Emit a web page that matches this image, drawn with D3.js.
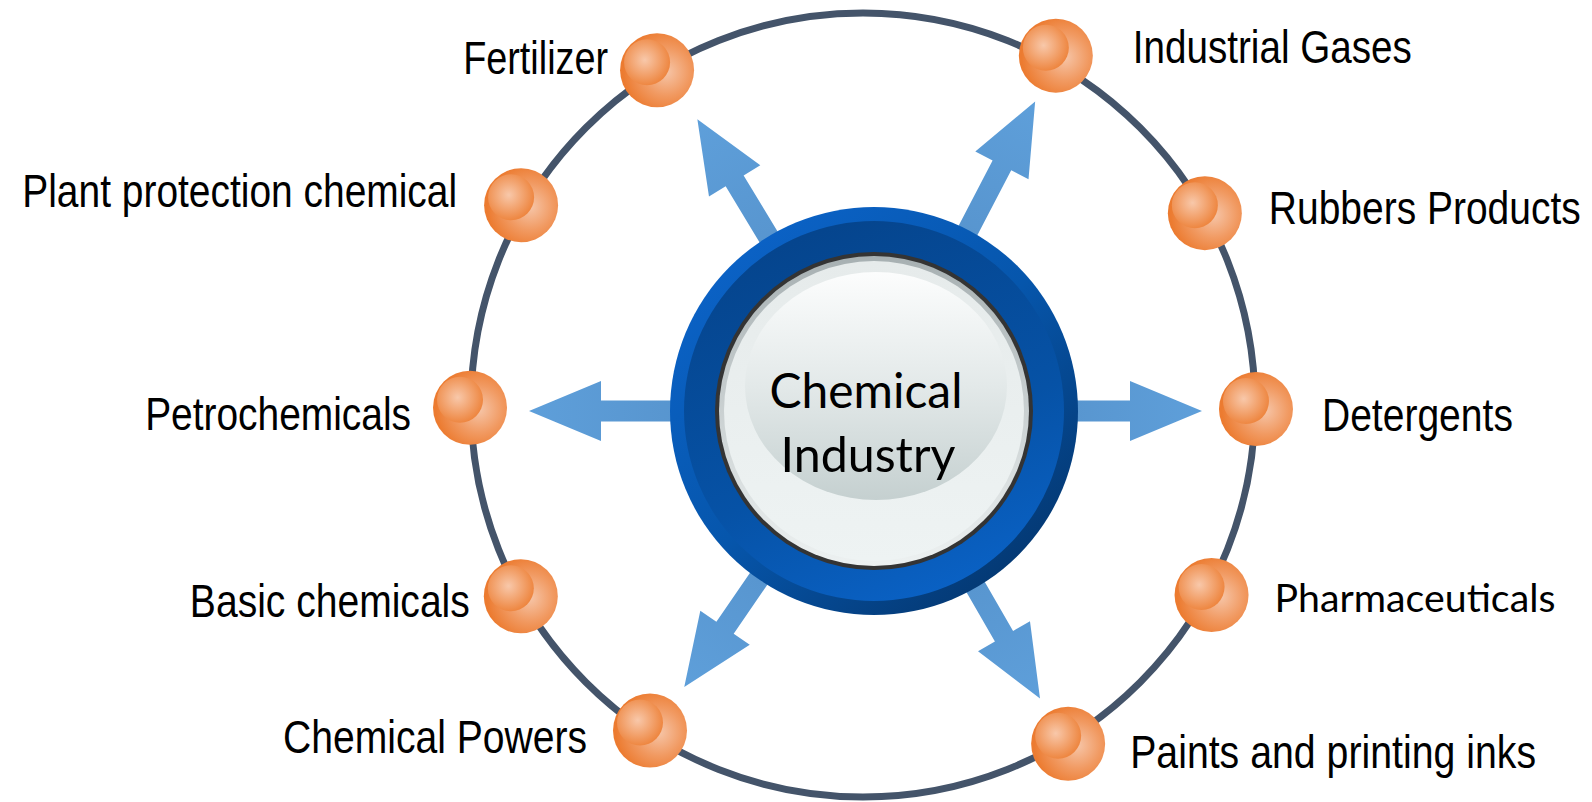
<!DOCTYPE html>
<html><head><meta charset="utf-8">
<script src="https://cdn.jsdelivr.net/npm/d3@7"></script>
<style>html,body{margin:0;padding:0;background:#fff;}svg{display:block;}</style>
</head><body>
<script>
// ---- data ----
const centerLabel = ["Chemical", "Industry"];
const labels = ["Fertilizer","Industrial Gases","Plant protection chemical","Rubbers Products","Petrochemicals","Detergents","Basic chemicals","Pharmaceuticals","Chemical Powers","Paints and printing inks"];
const nodeAngles = [-121.6,-61.1,-149.7,-29.3,179.6,0.6,150.8,28.6,123.2,58.8]; // degrees on the ring
const arrowAngles = [-121.2,-62.5,180,0,124.5,60];
const arrowLengths = [341,349,345,328,335,332];

// ---- layout ----
const W=1592,H=802;
const ring={cx:863,cy:405,r:392};
const hub={cx:874,cy:411};
const nodeDist=[393,399,396,392,393,393,392,397,389,396];
const labelLayout=[
 {dx:-49,dy:4,anchor:"end",len:145,font:"narrow"},
 {dx:77,dy:7,anchor:"start",len:279,font:"narrow"},
 {dx:-64,dy:2,anchor:"end",len:435,font:"narrow"},
 {dx:64,dy:11,anchor:"start",len:312,font:"narrow"},
 {dx:-59,dy:22,anchor:"end",len:266,font:"narrow"},
 {dx:66,dy:22,anchor:"start",len:191,font:"narrow"},
 {dx:-51,dy:21,anchor:"end",len:280,font:"narrow"},
 {dx:63,dy:17,anchor:"start",len:281,font:"calibri"},
 {dx:-63,dy:22,anchor:"end",len:304,font:"narrow"},
 {dx:62,dy:24,anchor:"start",len:406,font:"narrow"}
];

const svg=d3.select("body").append("svg").attr("width",W).attr("height",H);
svg.append("rect").attr("width",W).attr("height",H).attr("fill","#fff");
const defs=svg.append("defs");
function lin(id,x1,y1,x2,y2,stops){
  const g=defs.append("linearGradient").attr("id",id).attr("x1",x1).attr("y1",y1).attr("x2",x2).attr("y2",y2);
  stops.forEach(s=>g.append("stop").attr("offset",s[0]).attr("stop-color",s[1]));
}
function rad(id,cx,cy,r,stops){
  const g=defs.append("radialGradient").attr("id",id).attr("cx",cx).attr("cy",cy).attr("r",r);
  stops.forEach(s=>g.append("stop").attr("offset",s[0]).attr("stop-color",s[1]));
}
lin("arrowG",0,0,1,0,[[0,"#4f88c0"],[1,"#5e9fda"]]);
lin("blueOuter",0.15,0.1,0.85,0.9,[[0,"#0b62c6"],[0.5,"#0656ac"],[1,"#043872"]]);
lin("blueInner",0.3,0,0.7,1,[[0,"#05448c"],[0.6,"#0652a6"],[1,"#0a62c6"]]);
lin("grayRing",0,0,0,1,[[0,"#a7b0b2"],[1,"#edf1f1"]]);
lin("innerFace",0,0,0,1,[[0,"#e6ebeb"],[1,"#eef3f3"]]);
lin("bubble",0,0,0,1,[[0,"#fcfdfd"],[0.5,"#e3e9e9"],[1,"#c5d0d0"]]);
rad("orbOuter","62%","52%","58%",[[0,"#f6c6a9"],[0.55,"#f19a62"],[1,"#ec7b30"]]);
rad("orbInner","45%","45%","60%",[[0,"#f8c8aa"],[1,"#ed8138"]]);

// ring
svg.append("circle").attr("cx",ring.cx).attr("cy",ring.cy).attr("r",ring.r)
  .attr("fill","none").attr("stroke","#44546a").attr("stroke-width",7);

// arrows
const shaftHalf=10.5, headHalf=30, headLen=72;
function arrowPath(L){
  const p=d3.path();
  p.moveTo(0,-shaftHalf);p.lineTo(L-headLen,-shaftHalf);p.lineTo(L-headLen,-headHalf);
  p.lineTo(L,0);p.lineTo(L-headLen,headHalf);p.lineTo(L-headLen,shaftHalf);p.lineTo(0,shaftHalf);p.closePath();
  return p.toString();
}
svg.append("g").selectAll("path").data(arrowAngles).join("path")
  .attr("d",(a,i)=>arrowPath(arrowLengths[i]))
  .attr("transform",a=>`translate(${hub.cx},${hub.cy}) rotate(${a})`)
  .attr("fill","url(#arrowG)");

// hub
const hubG=svg.append("g").attr("transform",`translate(${hub.cx},${hub.cy})`);
hubG.append("circle").attr("r",204).attr("fill","url(#blueOuter)");
hubG.append("circle").attr("r",190).attr("fill","url(#blueInner)");
hubG.append("circle").attr("r",159).attr("fill","#343434");
hubG.append("circle").attr("r",155).attr("fill","url(#grayRing)");
hubG.append("circle").attr("r",150).attr("fill","url(#innerFace)");
hubG.append("ellipse").attr("cx",2).attr("cy",-25).attr("rx",131).attr("ry",114).attr("fill","url(#bubble)");
const cFont="Lato, 'Open Sans', sans-serif";
const nFont="'Liberation Sans Narrow','Arial Narrow','Liberation Sans',sans-serif";

function fitX(sel, x, y, target){
  sel.each(function(d,i){
    const t=d3.select(this);
    const w=this.getComputedTextLength();
    const tl=typeof target==="function"?target(d,i):target;
    const sx=w>0?tl/w:1;
    t.attr("transform",`translate(${typeof x==="function"?x(d,i):x},${typeof y==="function"?y(d,i):y}) scale(${sx},1)`);
  });
}
const ct=hubG.selectAll("text.c").data(centerLabel).join("text").attr("class","c")
  .attr("text-anchor","middle").attr("font-family",cFont).attr("font-size",48)
  .attr("fill","#000").text(d=>d);
fitX(ct,(d,i)=>i?-6:-8,(d,i)=>i?61:-3,(d,i)=>i?175:193);

// nodes
const toRad=d=>d*Math.PI/180;
const nodes=labels.map((l,i)=>({label:l,
  x:ring.cx+nodeDist[i]*Math.cos(toRad(nodeAngles[i])),
  y:ring.cy+nodeDist[i]*Math.sin(toRad(nodeAngles[i])),lay:labelLayout[i]}));
const ng=svg.append("g").selectAll("g").data(nodes).join("g").attr("transform",d=>`translate(${d.x},${d.y})`);
ng.append("circle").attr("r",37).attr("fill","url(#orbOuter)");
ng.append("circle").attr("cx",-10).attr("cy",-8).attr("r",23).attr("fill","url(#orbInner)");
const lt=ng.append("text")
  .attr("text-anchor",d=>d.lay.anchor)
  .attr("font-family",d=>d.lay.font==="narrow"?nFont:cFont)
  .attr("font-size",d=>d.lay.font==="narrow"?47:38)
  .attr("fill","#000").text(d=>d.label);
fitX(lt,d=>d.lay.dx,d=>d.lay.dy,d=>d.lay.len);
</script>
</body></html>
